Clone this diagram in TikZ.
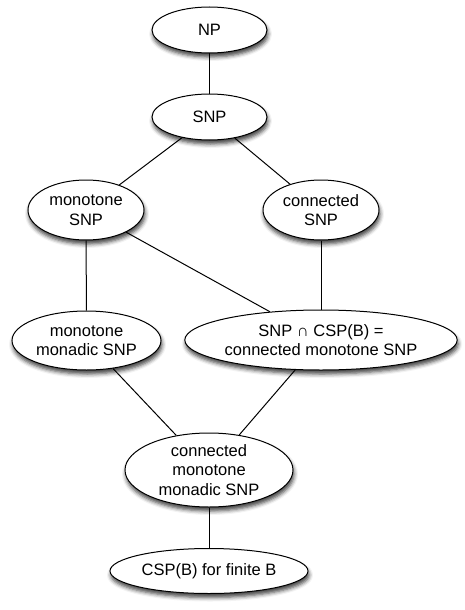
\documentclass[tikz,border=0pt]{standalone}
\usepackage{fontspec}
\setmainfont{Liberation Sans}
\usetikzlibrary{shapes.geometric,shadows.blur}
\begin{document}
\begin{tikzpicture}[x=1pt,y=-1pt,
  ell/.style={ellipse, draw=black, line width=1pt, fill=white, inner sep=0pt,
    align=center, font=\fontsize{16.5}{19.5}\selectfont,
    blur shadow={shadow xshift=1pt, shadow yshift=-4pt, shadow blur radius=4pt, shadow opacity=75}},
  conn/.style={line width=1pt, draw=black}]
\useasboundingbox (0,0) rectangle (464,610);
\node[ell, minimum width=115, minimum height=46] (np) at (209.5,30) {NP};
\node[ell, minimum width=115, minimum height=46] (snp) at (209.5,117) {SNP};
\node[ell, minimum width=116, minimum height=60] (ms) at (86,210) {monotone\\SNP};
\node[ell, minimum width=116, minimum height=60] (cs) at (321,210) {connected\\SNP};
\node[ell, minimum width=149, minimum height=59] (mms) at (86.5,340.5) {monotone\\monadic SNP};
\node[ell, minimum width=262, minimum height=60] (csp) at (321,340) {SNP ∩ CSP(B) =\\connected monotone SNP};
\node[ell, minimum width=168, minimum height=74] (cmm) at (209,470) {connected\\monotone\\monadic SNP};
\node[ell, minimum width=198, minimum height=45] (fin) at (209,571) {CSP(B) for finite B};
\draw[conn] (np) -- (snp);
\draw[conn] (snp) -- (ms);
\draw[conn] (snp) -- (cs);
\draw[conn] (ms) -- (mms);
\draw[conn] (ms) -- (csp);
\draw[conn] (cs) -- (csp);
\draw[conn] (mms) -- (cmm);
\draw[conn] (csp) -- (cmm);
\draw[conn] (cmm) -- (fin);
\end{tikzpicture}
\end{document}
